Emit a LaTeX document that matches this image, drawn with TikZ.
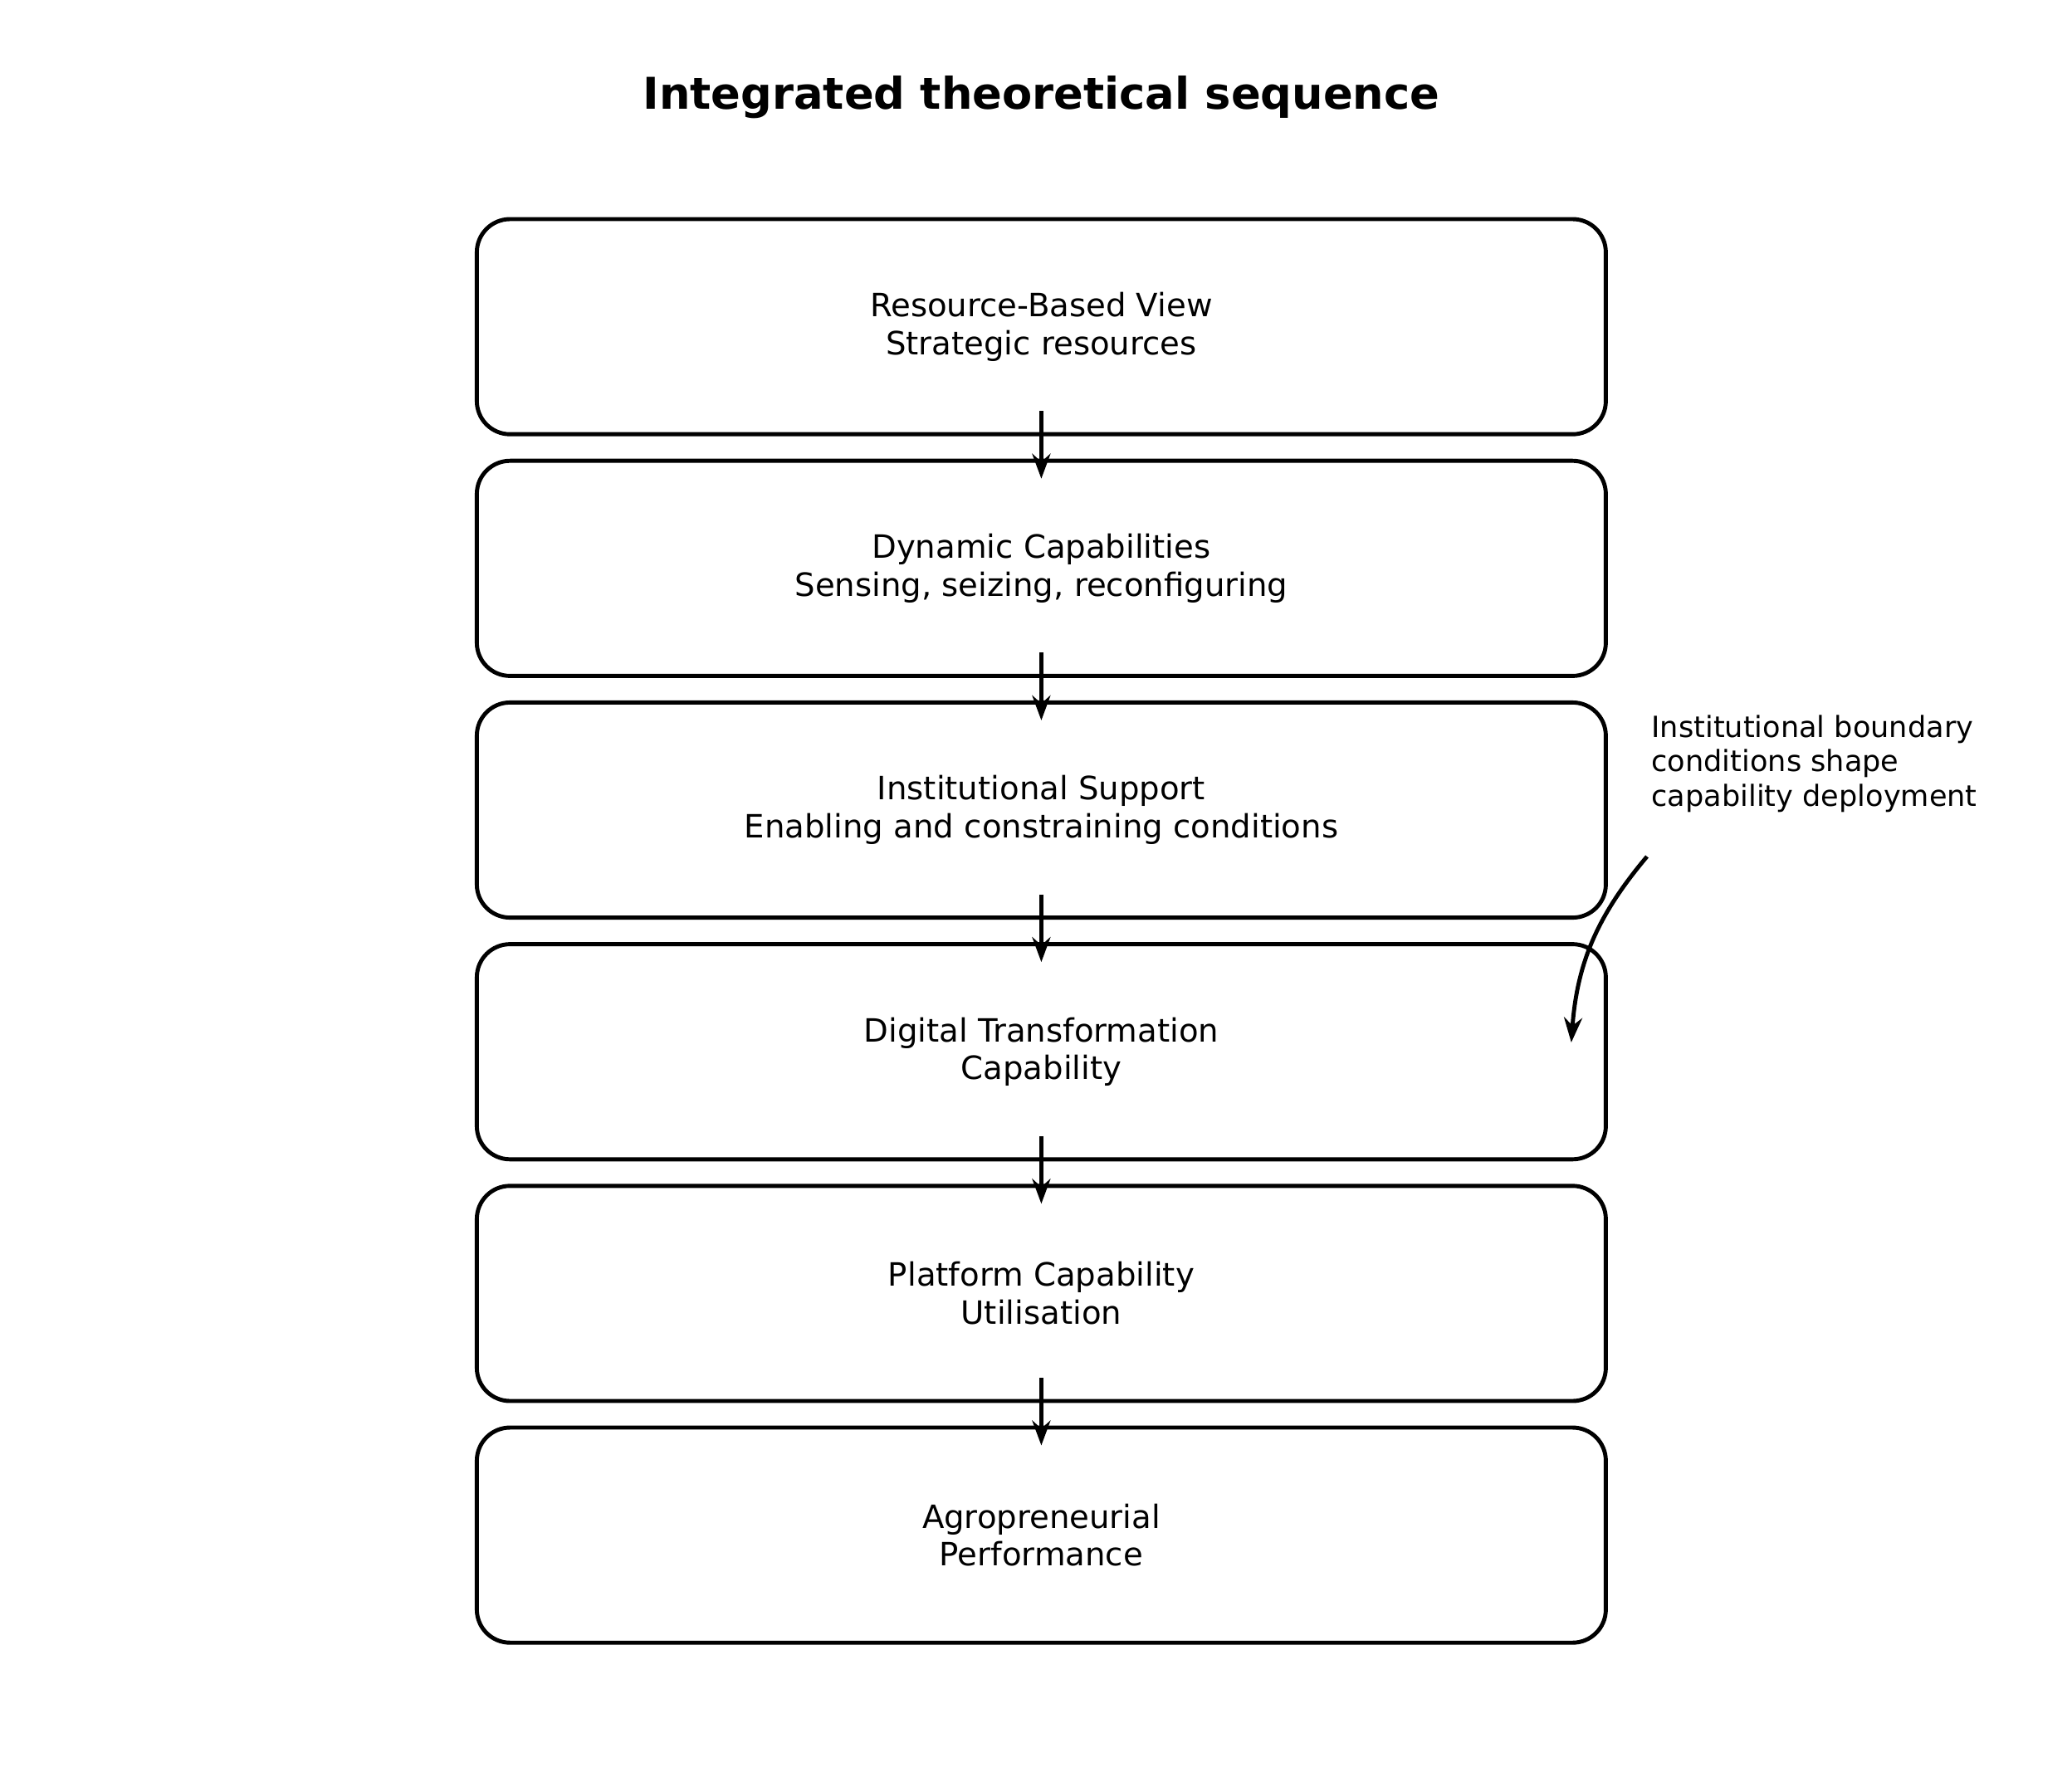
\documentclass[tikz,border=0pt]{standalone}
\usepackage{fontspec}
\setmainfont{DejaVu Sans}
\usetikzlibrary{arrows.meta}
\begin{document}
\begin{tikzpicture}[x=0.016cm,y=-0.016cm,
  stage/.style={draw,line width=1.4pt,rounded corners=0.4cm,minimum width=850*0.016cm,minimum height=162*0.016cm,align=center,font=\fontsize{11}{13}\selectfont,inner sep=0pt},
  arr/.style={line width=1.4pt,-{Stealth[length=0.3cm,width=0.22cm]}}]
\useasboundingbox (0,0) rectangle (1560,1330.6);
\node[font=\fontsize{15}{18}\selectfont\bfseries] (title) at (784,73) {Integrated theoretical sequence};
\node[stage] (a) at (784,246) {Resource-Based View\\Strategic resources};
\node[stage] (b) at (784,428) {Dynamic Capabilities\\Sensing, seizing, reconfiguring};
\node[stage] (c) at (784,610) {Institutional Support\\Enabling and constraining conditions};
\node[stage] (d) at (784,792) {Digital Transformation\\Capability};
\node[stage] (e) at (784,974) {Platform Capability\\Utilisation};
\node[stage] (f) at (784,1156) {Agropreneurial\\Performance};
\foreach \p/\q in {a/b,b/c,c/d,d/e,e/f}
  \draw[arr] ([yshift=0.304cm]\p.south) -- ([yshift=-0.24cm]\q.north);
\node[anchor=north west,align=left,font=\fontsize{10}{11.8}\selectfont,inner sep=0pt] (note) at (1243,538) {Institutional boundary\\conditions shape\\capability deployment};
\coordinate (n1) at (1240,645);
\coordinate (n2) at (1183,785);
\draw[arr] (n1) to[bend right=18] (n2);
\end{tikzpicture}
\end{document}
